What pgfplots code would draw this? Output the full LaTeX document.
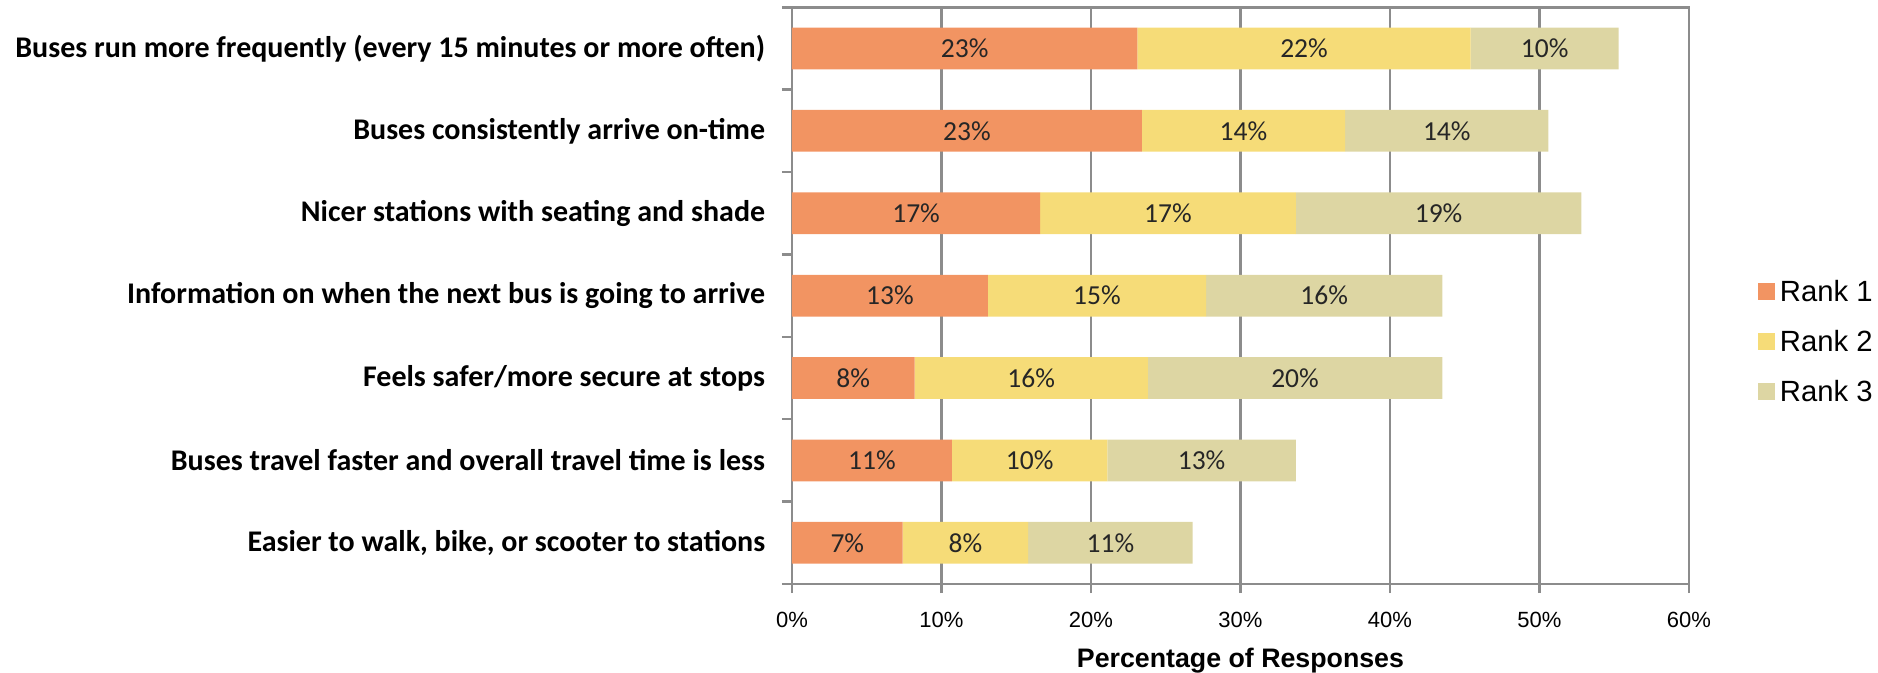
\documentclass[border=0pt]{standalone}
\usepackage{fontspec}
\setmainfont{Carlito}
\newfontfamily\arial{Liberation Sans}
\usepackage{pgfplots}
\usepackage{pgfplotstable}
\pgfplotsset{compat=1.18}

\definecolor{rankone}{RGB}{242,148,98}
\definecolor{ranktwo}{RGB}{246,220,120}
\definecolor{rankthree}{RGB}{221,214,163}
\definecolor{gridgray}{RGB}{140,140,140}

% share of responses per rank, categories from top (0) to bottom (6)
\pgfplotstableread{
idx r1   r2   r3
0   23.1 22.3 9.9
1   23.4 13.6 13.6
2   16.6 17.1 19.1
3   13.1 14.6 15.8
4   8.2  15.6 19.7
5   10.7 10.4 12.6
6   7.4  8.4  11.0
}\responses

\begin{document}
\begin{tikzpicture}
\useasboundingbox (-316.8pt,-35.6pt) rectangle (434.4pt,233.6pt);
\begin{axis}[
    scale only axis,
    width=358.8pt, height=230.7pt,
    xbar stacked,
    bar width=16.7pt,
    xmin=0, xmax=60,
    ymin=-0.5, ymax=6.5,
    y dir=reverse,
    axis line style={draw=gridgray, line width=1pt},
    tick align=outside,
    tick pos=left,
    major tick length=3.6pt,
    minor tick length=4pt,
    xtick={0,10,...,60},
    xticklabel={\pgfmathprintnumber{\tick}\%},
    xtick style={draw=gridgray, line width=1pt},
    xmajorgrids,
    major x grid style={draw=gridgray, line width=1pt},
    ytick={0,...,6},
    minor ytick={-0.5,0.5,...,6.5},
    major y tick style={draw=none},
    minor y tick style={draw=gridgray, line width=1pt},
    yticklabels={
        Buses run more frequently (every 15 minutes or more often),
        Buses consistently arrive on-time,
        Nicer stations with seating and shade,
        Information on when the next bus is going to arrive,
        Feels safer/more secure at stops,
        Buses travel faster and overall travel time is less,
        {Easier to walk, bike, or scooter to stations}},
    yticklabel style={font=\bfseries\fontsize{12}{14}\selectfont, anchor=east, xshift=-3.6pt},
    /pgf/number format/assume math mode=true,
    xticklabel style={font=\arial\fontsize{8.8}{10}\selectfont, yshift=-4pt},
    xlabel={Percentage of Responses},
    xlabel style={font=\arial\bfseries\fontsize{10.7}{12}\selectfont,
        at={(axis description cs:0.5,0)}, anchor=base, yshift=-33.2pt},
    point meta=explicit,
    nodes near coords={\pgfmathprintnumber[fixed,precision=0]{\pgfplotspointmeta}\%},
    every node near coord/.append style={anchor=center,
        font=\fontsize{11}{13}\selectfont, text=black!85},
    legend style={at={(1.068,0.418)}, anchor=west, draw=none, fill=none,
        font=\arial\fontsize{11.7}{14}\selectfont, row sep=6pt},
    legend cell align=left,
    legend image code/.code={\fill[#1] (0pt,-3pt) rectangle (6.8pt,3.8pt);},
]
\addplot[fill=rankone, draw=none] table[x=r1, y=idx, meta=r1] {\responses};
\addplot[fill=ranktwo, draw=none] table[x=r2, y=idx, meta=r2] {\responses};
\addplot[fill=rankthree, draw=none] table[x=r3, y=idx, meta=r3] {\responses};
\legend{Rank 1, Rank 2, Rank 3}
\end{axis}
\end{tikzpicture}
\end{document}
